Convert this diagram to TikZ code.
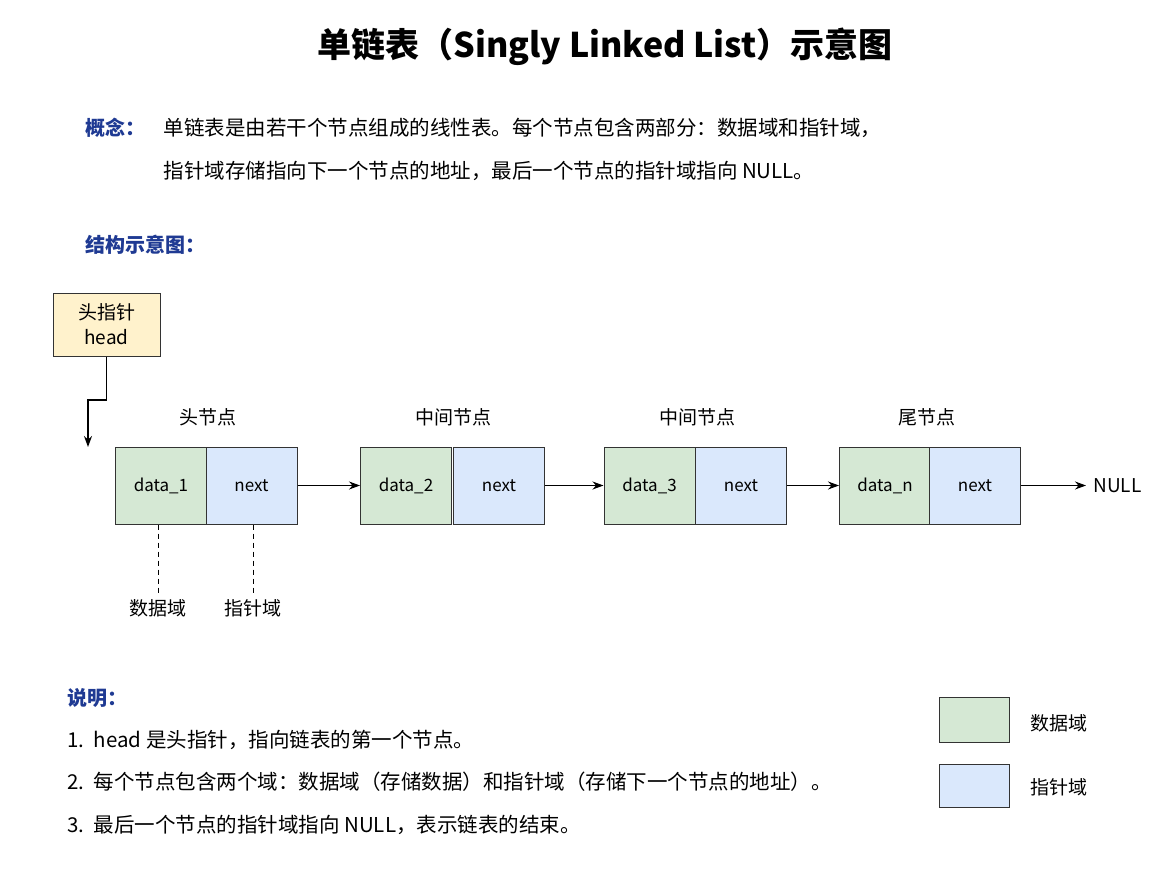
\documentclass[tikz,border=0pt]{standalone}
\usepackage{fontspec}
\setmainfont{Noto Sans CJK SC}
\usetikzlibrary{arrows.meta}
\definecolor{dg}{HTML}{D5E8D4}
\definecolor{nb}{HTML}{DAE8FC}
\definecolor{hy}{HTML}{FFF2CC}
\definecolor{tb}{HTML}{1F3A93}
\begin{document}
\begin{tikzpicture}[x=1pt,y=-1pt,
  box/.style={draw=black!80,line width=1pt,minimum height=77pt,inner sep=0pt,font=\fontsize{17}{20}\selectfont},
  dat/.style={box,fill=dg,minimum width=91pt},
  nxt/.style={box,fill=nb,minimum width=91pt},
  lbl/.style={font=\fontsize{19}{22}\selectfont},
  body/.style={font=\fontsize{20.5}{24}\selectfont,anchor=west},
  hd/.style={font=\bfseries\fontsize{20}{24}\selectfont,text=tb,anchor=west},
  arr/.style={-{Stealth[length=11pt,width=8pt]},line width=1.2pt}]
\useasboundingbox[fill=white] (0,0) rectangle (1168,880);
\node[font=\bfseries\fontsize{34}{40}\selectfont] (title) at (605,47) {单链表（Singly Linked List）示意图};
\node[hd] (gn) at (82,128) {概念：};
\node[body] (t1) at (160,128) {单链表是由若干个节点组成的线性表。每个节点包含两部分：数据域和指针域，};
\node[body] (t2) at (160,171) {指针域存储指向下一个节点的地址，最后一个节点的指针域指向 NULL。};
\node[hd] (jg) at (82,245) {结构示意图：};
\node[draw=black!80,fill=hy,line width=1pt,minimum width=107pt,minimum height=63pt,align=center,font=\fontsize{19}{25}\selectfont] (head) at (106.5,324.5) {头指针\\head};
\coordinate (hc) at (88,447);
\draw[arr] (head.south) |- (88,400) -- (hc);
\node[dat] (d1) at (161,485.5) {data\_1};
\node[nxt] (n1) at (251.5,485.5) {next};
\node[dat] (d2) at (406,485.5) {data\_2};
\node[nxt] (n2) at (499,485.5) {next};
\node[dat] (d3) at (649.5,485.5) {data\_3};
\node[nxt] (n3) at (741,485.5) {next};
\node[dat] (d4) at (885,485.5) {data\_n};
\node[nxt] (n4) at (975,485.5) {next};
\node[lbl] (l1) at (208,417) {头节点};
\node[lbl] (l2) at (453,417) {中间节点};
\node[lbl] (l3) at (697,417) {中间节点};
\node[lbl] (l4) at (927,417) {尾节点};
\coordinate (ne) at (1086,485.5);
\node[font=\fontsize{19}{22}\selectfont,anchor=west] (null) at (1090,485.5) {NULL};
\draw[arr] (n1.east) -- (d2.west);
\draw[arr] (n2.east) -- (d3.west);
\draw[arr] (n3.east) -- (d4.west);
\draw[arr] (n4.east) -- (ne);
\node[lbl] (sj) at (158,608) {数据域};
\node[lbl] (zz) at (253,608) {指针域};
\draw[line width=1pt,dash pattern=on 5pt off 4pt] (d1.south-|sj) -- (sj.north);
\draw[line width=1pt,dash pattern=on 5pt off 4pt] (n1.south-|zz) -- (zz.north);
\node[hd,anchor=west] (sm) at (64,698) {说明：};
\node[body] (i1) at (64,740) {1.\ \ head 是头指针，指向链表的第一个节点。};
\node[body] (i2) at (64,782) {2.\ \ 每个节点包含两个域：数据域（存储数据）和指针域（存储下一个节点的地址）。};
\node[body] (i3) at (64,825) {3.\ \ 最后一个节点的指针域指向 NULL，表示链表的结束。};
\node[draw=black!80,fill=dg,line width=1pt,minimum width=70pt,minimum height=45pt] (lg1) at (974,719.5) {};
\node[draw=black!80,fill=nb,line width=1pt,minimum width=70pt,minimum height=43pt] (lg2) at (974,785.5) {};
\node[lbl,anchor=west] (lt1) at (1027,723) {数据域};
\node[lbl,anchor=west] (lt2) at (1027,787) {指针域};
\end{tikzpicture}
\end{document}
